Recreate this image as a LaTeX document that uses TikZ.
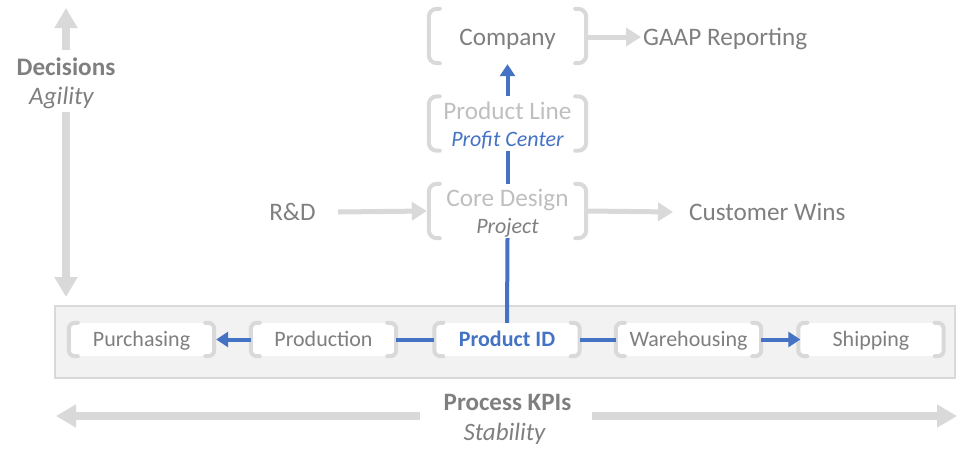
\documentclass[tikz,border=0pt]{standalone}
\usepackage{fontspec}
\setmainfont{Carlito}
\usetikzlibrary{arrows.meta}
\definecolor{tgray}{HTML}{7F7F7F}
\definecolor{lgray}{HTML}{BFBFBF}
\definecolor{bgray}{HTML}{D9D9D9}
\definecolor{bandfill}{HTML}{F2F2F2}
\definecolor{accent}{HTML}{4472C4}
\newcommand{\drawbrackets}[2]{%
  \draw[brk] ([xshift=#2+3pt]#1.north west) -- ([xshift=#2]#1.north west) arc[start angle=90,end angle=180,radius=#2] -- ([yshift=#2]#1.south west) arc[start angle=180,end angle=270,radius=#2] -- ([xshift=#2+3pt]#1.south west);
  \draw[brk] ([xshift=-#2-3pt]#1.north east) -- ([xshift=-#2]#1.north east) arc[start angle=90,end angle=0,radius=#2] -- ([yshift=#2]#1.south east) arc[start angle=0,end angle=-90,radius=#2] -- ([xshift=-#2-3pt]#1.south east);
}
\begin{document}
\begin{tikzpicture}[x=1pt,y=1pt,
  big/.style={font=\fontsize{25.2}{27}\selectfont},
  lbl/.style={big, inner sep=0pt, text height=15.5pt, text depth=0pt, text=tgray},
  upbox/.style={minimum width=157pt, minimum height=54pt, inner sep=0pt, align=center, big},
  lowbox/.style={minimum width=145pt, minimum height=33pt, inner sep=0pt, fill=white, rounded corners=6pt, font=\fontsize{22}{24}\selectfont, text=tgray, text height=14.4pt, text depth=0pt},
  brk/.style={draw=bgray, line width=4pt, line cap=round},
  bline/.style={draw=accent, line width=4pt},
  btip/.style={-{Triangle[length=12pt,width=15pt]}},
  gline/.style={draw=bgray, line width=5pt, -{Triangle[length=15pt,width=18pt]}},
  axis/.style={draw=bgray, line width=8pt, -{Triangle[length=20pt,width=22pt]}}
]
\useasboundingbox (0,0) rectangle (979,-451);

% process band
\node[draw=bgray, fill=bandfill, line width=2pt, minimum width=900pt, minimum height=72pt, inner sep=0pt] (kpiband) at (505,-342) {};

% upper boxes
\node[upbox, text=tgray, text height=18pt, text depth=0pt] (company) at (507.5,-36) {Company};
\node[upbox, text height=45pt, text depth=0pt] (pline) at (507.5,-123.5) {\textcolor{lgray}{Product Line}\\\textcolor{accent}{\itshape\fontsize{22}{24}\selectfont Profit Center}};
\node[upbox, text height=44pt, text depth=0pt] (core) at (507.5,-211) {\textcolor{lgray}{Core Design}\\\textcolor{tgray}{\itshape\fontsize{22}{24}\selectfont Project}};

% lower boxes
\node[lowbox] (purch) at (141.5,-339.5) {Purchasing};
\node[lowbox] (prodn) at (323.5,-339.5) {Production};
\node[lowbox, text=accent, font=\fontsize{22}{24}\selectfont\bfseries] (pid) at (507,-339.5) {Product ID};
\node[lowbox] (wareh) at (688.5,-339.5) {Warehousing};
\node[lowbox] (ship) at (871,-339.5) {Shipping};

\foreach \n in {company,pline,core}{\drawbrackets{\n}{8pt}}
\foreach \n in {purch,prodn,pid,wareh,ship}{\drawbrackets{\n}{6pt}}

% side labels
\node[lbl] (rd) at (292.5,-213) {R\&D};
\node[lbl, anchor=west] (wins) at (689,-213) {Customer Wins};
\node[lbl, anchor=west] (gaap) at (643,-38) {GAAP Reporting};

% blue chain
\draw[bline] (pid.north) -- (core.south);
\draw[bline] (core.north) -- (pline.south);
\draw[bline, btip] (pline.north) -- ([yshift=-1pt]company.south);
\draw[bline, btip] (prodn.west) -- ([xshift=2pt]purch.east);
\draw[bline] (pid.west) -- (prodn.east);
\draw[bline] (pid.east) -- (wareh.west);
\draw[bline, btip] (wareh.east) -- ([xshift=2pt]ship.west);

% gray flows
\coordinate (rdstart) at (338,-212);
\draw[gline] (rdstart) -- ([xshift=-2pt]core.west);
\coordinate (winsend) at (673,-212);
\draw[gline] ([xshift=2pt]core.east) -- (winsend);
\coordinate (gaapend) at (641,-37);
\draw[gline] ([xshift=2pt]company.east |- 0,-37) -- (gaapend);

% decisions axis
\node[lbl, font=\fontsize{25.2}{27}\selectfont\bfseries] (dec) at (66,-68) {Decisions};
\node[lbl, font=\fontsize{25.2}{27}\selectfont\itshape] (agi) at (61.5,-97) {Agility};
\coordinate (vtopstart) at (66,-50);
\coordinate (vtop) at (66,-8);
\coordinate (vbotstart) at (66,-112);
\coordinate (vbot) at (66,-297);
\draw[axis] (vtopstart) -- (vtop);
\draw[axis] (vbotstart) -- (vbot);

% process KPI axis
\node[lbl, font=\fontsize{25}{27}\selectfont\bfseries] (kpi) at (507.5,-403) {Process KPIs};
\node[lbl, font=\fontsize{25}{27}\selectfont\itshape] (stab) at (504.5,-433) {Stability};
\coordinate (hleftstart) at (420,-416);
\coordinate (hleft) at (56,-416);
\coordinate (hrightstart) at (592,-416);
\coordinate (hright) at (957,-416);
\draw[axis] (hleftstart) -- (hleft);
\draw[axis] (hrightstart) -- (hright);
\end{tikzpicture}
\end{document}
